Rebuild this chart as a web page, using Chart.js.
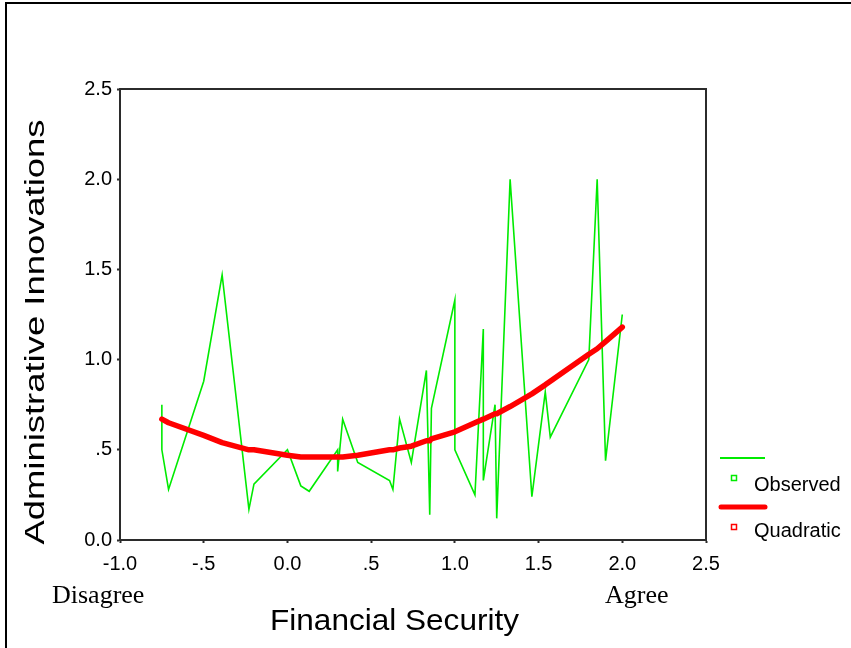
<!DOCTYPE html>
<html>
<head>
<meta charset="utf-8">
<script src="https://cdn.jsdelivr.net/npm/chart.js@4/dist/chart.umd.min.js"></script>
<style>
  html, body { margin: 0; padding: 0; background: #fff; }
  #wrap { position: absolute; left: 0; top: 0; width: 851px; height: 648px; }
</style>
</head>
<body>
<div id="wrap"><canvas id="c" width="851" height="648"></canvas></div>
<script>
// Financial security score (x) against administrative innovations (y)
const obsX = [-0.75, -0.75, -0.71, -0.50, -0.39, -0.23, -0.20, 0.00, 0.08, 0.13,
              0.30, 0.30, 0.33, 0.42, 0.61, 0.63, 0.67, 0.74, 0.83, 0.85,
              0.86, 1.00, 1.00, 1.12, 1.17, 1.17, 1.24, 1.25, 1.33, 1.46,
              1.54, 1.57, 1.80, 1.85, 1.90, 2.00];
const obsY = [0.75, 0.50, 0.28, 0.88, 1.47, 0.17, 0.31, 0.50, 0.30, 0.27,
              0.50, 0.38, 0.67, 0.43, 0.33, 0.28, 0.67, 0.43, 0.94, 0.14,
              0.73, 1.33, 0.50, 0.25, 1.17, 0.33, 0.75, 0.12, 2.00, 0.24,
              0.82, 0.57, 1.00, 2.00, 0.44, 1.25];
// Quadratic fit values at each observed x
const fitY = [0.67, 0.67, 0.65, 0.58, 0.54, 0.50, 0.50, 0.47, 0.46, 0.46,
              0.46, 0.46, 0.46, 0.47, 0.50, 0.50, 0.51, 0.52, 0.55, 0.55,
              0.56, 0.60, 0.60, 0.65, 0.67, 0.67, 0.70, 0.70, 0.74, 0.81,
              0.86, 0.88, 1.03, 1.06, 1.10, 1.18];

const xTickLabels = ['-1.0', '-.5', '0.0', '.5', '1.0', '1.5', '2.0', '2.5'];
const yTickLabels = ['0.0', '.5', '1.0', '1.5', '2.0', '2.5'];
const seriesNames = ['Observed', 'Quadratic'];

const GREEN = 'rgb(0,235,0)';
const RED = 'rgb(255,0,0)';
const AXIS = '#2b2b2b';

const observed = obsX.map((x, i) => ({ x: x, y: obsY[i] }));
const fitted = obsX.map((x, i) => ({ x: x, y: fitY[i] }));

// Frame, plot box, titles and legend drawn around the chart area
const decorations = {
  id: 'decorations',
  beforeDatasetsDraw(chart) {
    const ctx = chart.ctx;
    ctx.save();
    // outer frame (top and left edges)
    ctx.strokeStyle = '#000';
    ctx.lineWidth = 2;
    ctx.beginPath();
    ctx.moveTo(6, 648);
    ctx.lineTo(6, 3);
    ctx.lineTo(851, 3);
    ctx.stroke();
    ctx.restore();
  },
  afterDraw(chart) {
    const ctx = chart.ctx;
    const a = chart.chartArea;
    ctx.save();
    // top and right edges of the plot box
    ctx.strokeStyle = AXIS;
    ctx.lineWidth = 2;
    ctx.beginPath();
    ctx.moveTo(a.left, a.top);
    ctx.lineTo(a.right, a.top);
    ctx.lineTo(a.right, a.bottom);
    ctx.stroke();

    ctx.fillStyle = '#000';
    // y-axis title
    ctx.save();
    ctx.font = '27px "Liberation Sans", Arial, sans-serif';
    const yt = 'Administrative Innovations';
    const ytw = ctx.measureText(yt).width;
    ctx.translate(44, 332);
    ctx.rotate(-Math.PI / 2);
    ctx.scale(425 / ytw, 1);
    ctx.textAlign = 'center';
    ctx.textBaseline = 'alphabetic';
    ctx.fillText(yt, 0, 0);
    ctx.restore();

    // x-axis title
    ctx.save();
    ctx.font = '30px "Liberation Sans", Arial, sans-serif';
    const xt = 'Financial Security';
    const xtw = ctx.measureText(xt).width;
    ctx.translate(394.5, 630);
    ctx.scale(249 / xtw, 1);
    ctx.textAlign = 'center';
    ctx.textBaseline = 'alphabetic';
    ctx.fillText(xt, 0, 0);
    ctx.restore();

    // scale end notes
    ctx.font = '26px "Liberation Serif", "Times New Roman", serif';
    ctx.textAlign = 'left';
    ctx.textBaseline = 'alphabetic';
    ctx.fillText('Disagree', 52, 603);
    ctx.fillText('Agree', 605, 603);

    // legend
    ctx.lineCap = 'butt';
    ctx.strokeStyle = GREEN;
    ctx.lineWidth = 2;
    ctx.beginPath();
    ctx.moveTo(720, 458);
    ctx.lineTo(765, 458);
    ctx.stroke();
    ctx.lineWidth = 1.5;
    ctx.strokeRect(731.5, 475.5, 5, 5);

    ctx.strokeStyle = RED;
    ctx.lineWidth = 5;
    ctx.lineCap = 'round';
    ctx.beginPath();
    ctx.moveTo(721, 507);
    ctx.lineTo(765, 507);
    ctx.stroke();
    ctx.lineWidth = 1.5;
    ctx.lineCap = 'butt';
    ctx.strokeRect(731.5, 524.5, 5, 5);

    ctx.fillStyle = '#000';
    ctx.font = '20px "Liberation Sans", Arial, sans-serif';
    ctx.fillText(seriesNames[0], 754, 491);
    ctx.fillText(seriesNames[1], 754, 537);
    ctx.restore();
  }
};

new Chart(document.getElementById('c'), {
  type: 'scatter',
  data: {
    datasets: [
      {
        label: seriesNames[0],
        data: observed,
        showLine: true,
        borderColor: GREEN,
        borderWidth: 1.6,
        pointRadius: 0,
        tension: 0,
        order: 2
      },
      {
        label: seriesNames[1],
        data: fitted,
        showLine: true,
        borderColor: RED,
        borderWidth: 5.5,
        borderCapStyle: 'round',
        borderJoinStyle: 'round',
        pointRadius: 0,
        tension: 0,
        order: 1
      }
    ]
  },
  options: {
    responsive: false,
    animation: false,
    devicePixelRatio: 1,
    layout: { padding: { left: 0, right: 145, top: 89, bottom: 0 } },
    plugins: {
      legend: { display: false },
      tooltip: { enabled: false }
    },
    scales: {
      x: {
        type: 'linear',
        min: -1,
        max: 2.5,
        afterFit(s) { s.height = 108; },
        ticks: {
          stepSize: 0.5,
          padding: 9,
          color: '#000',
          font: { family: '"Liberation Sans", Arial, sans-serif', size: 20 },
          maxRotation: 0,
          callback(v, i) { return xTickLabels[i]; }
        },
        grid: {
          drawOnChartArea: false,
          drawTicks: true,
          tickLength: 3,
          tickWidth: 2,
          tickColor: AXIS
        },
        border: { display: true, color: AXIS, width: 2 }
      },
      y: {
        type: 'linear',
        min: 0,
        max: 2.5,
        afterFit(s) { s.width = 120; },
        ticks: {
          stepSize: 0.5,
          padding: 5,
          color: '#000',
          font: { family: '"Liberation Sans", Arial, sans-serif', size: 20 },
          callback(v, i) { return yTickLabels[i]; }
        },
        grid: {
          drawOnChartArea: false,
          drawTicks: true,
          tickLength: 3,
          tickWidth: 2,
          tickColor: AXIS
        },
        border: { display: true, color: AXIS, width: 2 }
      }
    }
  },
  plugins: [decorations]
});
</script>
</body>
</html>
